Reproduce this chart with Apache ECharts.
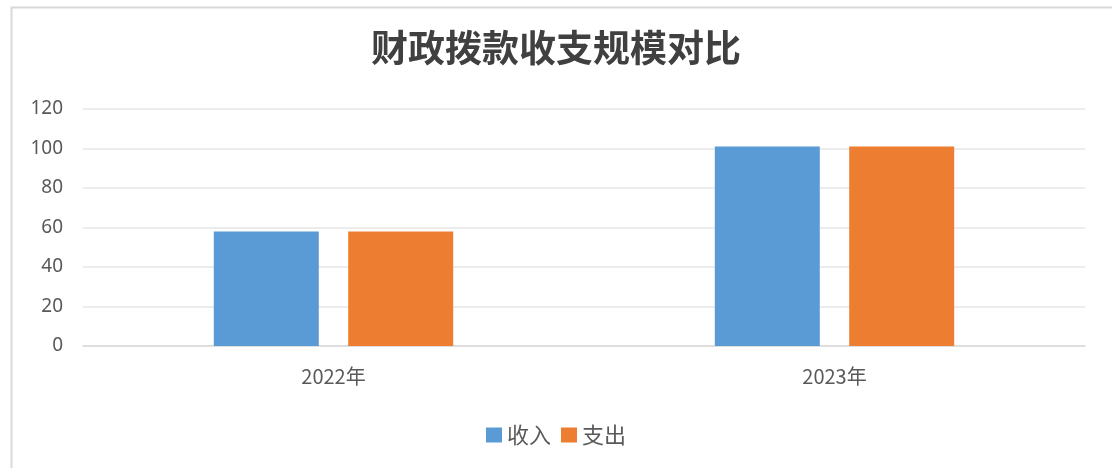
<!DOCTYPE html>
<html>
<head>
<meta charset="utf-8">
<script src="https://cdn.jsdelivr.net/npm/echarts@6/dist/echarts.min.js"></script>
<style>html,body{margin:0;padding:0;background:#fff}#c{width:1112px;height:468px}</style>
</head>
<body>
<div id="c"></div>
<script>
const categories = ['2022年', '2023年'];
const income = [58, 101];
const expense = [58, 101];
const yTicks = [0, 20, 40, 60, 80, 100, 120];

const chart = echarts.init(document.getElementById('c'));
chart.setOption({
  backgroundColor: '#fff',
  animation: false,
  graphic: [{
    type: 'rect', left: 9, top: 5,
    shape: { width: 1200, height: 600 },
    style: { fill: 'none', stroke: '#d9d9d9', lineWidth: 2 },
    silent: true
  }],
  title: {
    text: '财政拨款收支规模对比',
    left: 'center', top: 24,
    textStyle: { fontFamily: 'Noto Sans CJK SC', fontSize: 37, fontWeight: 'bold', color: '#404040' }
  },
  legend: {
    top: 419, left: 'center',
    itemWidth: 16, itemHeight: 15, itemGap: 10,
    icon: 'rect',
    textStyle: { fontFamily: 'Noto Sans CJK SC', fontSize: 22, color: '#595959' },
    data: ['收入', '支出']
  },
  grid: { left: 83, right: 27, top: 109, bottom: 122, containLabel: false },
  xAxis: {
    type: 'category', data: categories,
    axisLine: { lineStyle: { color: '#d9d9d9', width: 1.5 } },
    axisTick: { show: false },
    axisLabel: { fontFamily: 'Noto Sans CJK SC', fontSize: 20, color: '#595959', margin: 20 }
  },
  yAxis: {
    type: 'value', min: yTicks[0], max: yTicks[yTicks.length - 1], interval: 20,
    axisLine: { show: false }, axisTick: { show: false },
    splitLine: { lineStyle: { color: '#e6e6e6', width: 1.5 } },
    axisLabel: { fontFamily: 'Noto Sans', fontSize: 19, color: '#595959', margin: 20 }
  },
  series: [
    { name: '收入', type: 'bar', data: income, barWidth: 105, barGap: '28%', itemStyle: { color: '#5B9BD5' } },
    { name: '支出', type: 'bar', data: expense, barWidth: 105, barGap: '28%', itemStyle: { color: '#ED7D31' } }
  ]
});
</script>
</body>
</html>
